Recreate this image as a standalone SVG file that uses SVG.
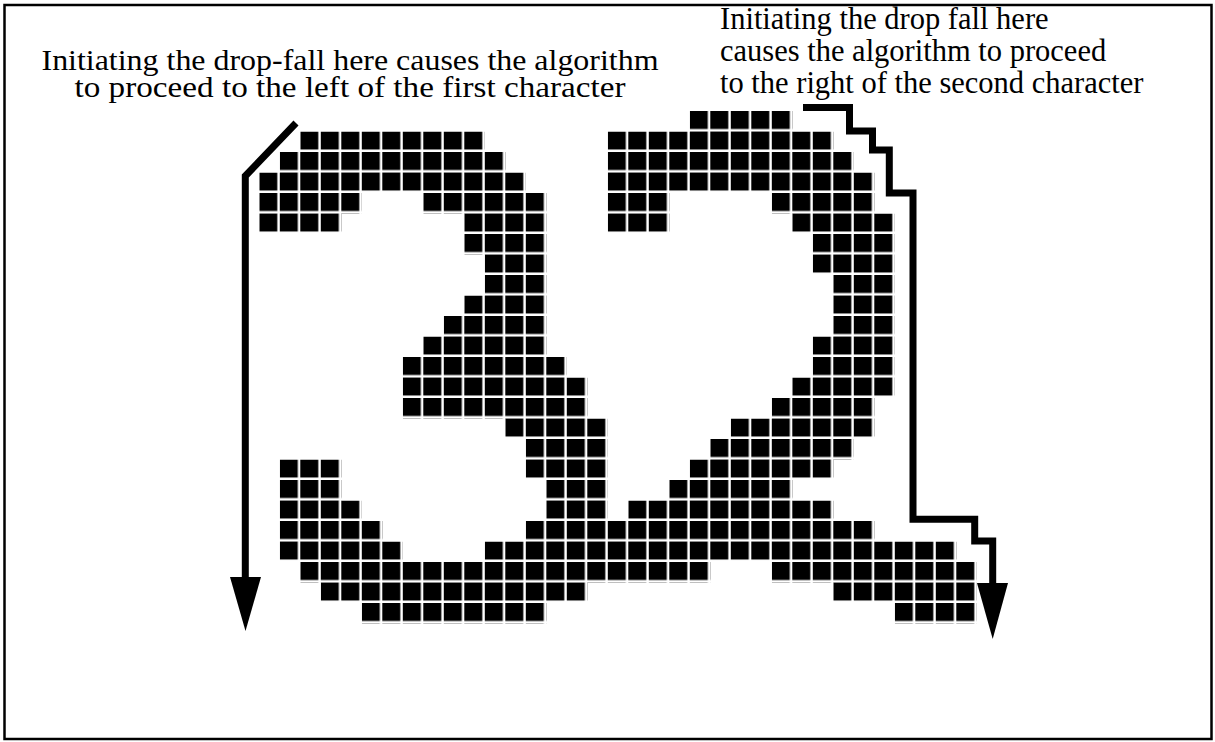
<svg xmlns="http://www.w3.org/2000/svg" width="1215" height="742" viewBox="0 0 1215 742">
<style>
.lbl{font-family:"Liberation Serif","Times New Roman",serif;fill:#000}
.conn{fill:none;stroke:#000;stroke-width:7;stroke-linejoin:miter}
.head{fill:#000}
.run{fill:url(#px)}
</style>
<defs>
<pattern id="px" patternUnits="userSpaceOnUse" x="259.3" y="111" width="20.5" height="20.5">
<rect x="0" y="0" width="18" height="18" fill="#000"/>
</pattern>
</defs>
<rect id="frame" x="4.5" y="5" width="1207" height="734" fill="#fff" stroke="#000" stroke-width="2.5"/>
<g id="grid">
<!-- row 0 -->
<rect class="run" x="689.8" y="111" width="102.5" height="20.5"/>
<!-- row 1 -->
<rect class="run" x="300.3" y="131.5" width="184.5" height="20.5"/>
<rect class="run" x="607.8" y="131.5" width="225.5" height="20.5"/>
<!-- row 2 -->
<rect class="run" x="279.8" y="152" width="225.5" height="20.5"/>
<rect class="run" x="607.8" y="152" width="246" height="20.5"/>
<!-- row 3 -->
<rect class="run" x="259.3" y="172.5" width="266.5" height="20.5"/>
<rect class="run" x="607.8" y="172.5" width="266.5" height="20.5"/>
<!-- row 4 -->
<rect class="run" x="259.3" y="193" width="102.5" height="20.5"/>
<rect class="run" x="423.3" y="193" width="123" height="20.5"/>
<rect class="run" x="607.8" y="193" width="61.5" height="20.5"/>
<rect class="run" x="771.8" y="193" width="102.5" height="20.5"/>
<!-- row 5 -->
<rect class="run" x="259.3" y="213.5" width="82" height="20.5"/>
<rect class="run" x="464.3" y="213.5" width="82" height="20.5"/>
<rect class="run" x="607.8" y="213.5" width="61.5" height="20.5"/>
<rect class="run" x="792.3" y="213.5" width="102.5" height="20.5"/>
<!-- row 6 -->
<rect class="run" x="464.3" y="234" width="82" height="20.5"/>
<rect class="run" x="812.8" y="234" width="82" height="20.5"/>
<!-- row 7 -->
<rect class="run" x="484.8" y="254.5" width="61.5" height="20.5"/>
<rect class="run" x="812.8" y="254.5" width="82" height="20.5"/>
<!-- row 8 -->
<rect class="run" x="484.8" y="275" width="61.5" height="20.5"/>
<rect class="run" x="833.3" y="275" width="61.5" height="20.5"/>
<!-- row 9 -->
<rect class="run" x="464.3" y="295.5" width="82" height="20.5"/>
<rect class="run" x="833.3" y="295.5" width="61.5" height="20.5"/>
<!-- row 10 -->
<rect class="run" x="443.8" y="316" width="102.5" height="20.5"/>
<rect class="run" x="833.3" y="316" width="61.5" height="20.5"/>
<!-- row 11 -->
<rect class="run" x="423.3" y="336.5" width="123" height="20.5"/>
<rect class="run" x="812.8" y="336.5" width="82" height="20.5"/>
<!-- row 12 -->
<rect class="run" x="402.8" y="357" width="164" height="20.5"/>
<rect class="run" x="812.8" y="357" width="82" height="20.5"/>
<!-- row 13 -->
<rect class="run" x="402.8" y="377.5" width="184.5" height="20.5"/>
<rect class="run" x="792.3" y="377.5" width="102.5" height="20.5"/>
<!-- row 14 -->
<rect class="run" x="402.8" y="398" width="184.5" height="20.5"/>
<rect class="run" x="771.8" y="398" width="102.5" height="20.5"/>
<!-- row 15 -->
<rect class="run" x="505.3" y="418.5" width="102.5" height="20.5"/>
<rect class="run" x="730.8" y="418.5" width="143.5" height="20.5"/>
<!-- row 16 -->
<rect class="run" x="525.8" y="439" width="82" height="20.5"/>
<rect class="run" x="710.3" y="439" width="143.5" height="20.5"/>
<!-- row 17 -->
<rect class="run" x="279.8" y="459.5" width="61.5" height="20.5"/>
<rect class="run" x="525.8" y="459.5" width="82" height="20.5"/>
<rect class="run" x="689.8" y="459.5" width="143.5" height="20.5"/>
<!-- row 18 -->
<rect class="run" x="279.8" y="480" width="61.5" height="20.5"/>
<rect class="run" x="546.3" y="480" width="61.5" height="20.5"/>
<rect class="run" x="669.3" y="480" width="123" height="20.5"/>
<!-- row 19 -->
<rect class="run" x="279.8" y="500.5" width="82" height="20.5"/>
<rect class="run" x="546.3" y="500.5" width="61.5" height="20.5"/>
<rect class="run" x="628.3" y="500.5" width="205" height="20.5"/>
<!-- row 20 -->
<rect class="run" x="279.8" y="521" width="102.5" height="20.5"/>
<rect class="run" x="525.8" y="521" width="348.5" height="20.5"/>
<!-- row 21 -->
<rect class="run" x="279.8" y="541.5" width="123" height="20.5"/>
<rect class="run" x="484.8" y="541.5" width="471.5" height="20.5"/>
<!-- row 22 -->
<rect class="run" x="300.3" y="562" width="410" height="20.5"/>
<rect class="run" x="771.8" y="562" width="205" height="20.5"/>
<!-- row 23 -->
<rect class="run" x="320.8" y="582.5" width="266.5" height="20.5"/>
<rect class="run" x="833.3" y="582.5" width="143.5" height="20.5"/>
<!-- row 24 -->
<rect class="run" x="361.8" y="603" width="184.5" height="20.5"/>
<rect class="run" x="894.8" y="603" width="82" height="20.5"/>
</g>
<g id="connectors">
<path class="conn" d="M 296 123 L 245.3 176 V 580"/>
<polygon class="head" points="230,577 261,577 245.5,631"/>
<path class="conn" d="M 803 107.5 H 849.5 V 131 H 872.5 V 150 H 889.3 V 193 H 913 V 519.3 H 974.7 V 541 H 992.7 V 586"/>
<polygon class="head" points="977,583 1008,583 992.7,639"/>
</g>
<g id="label-left">
<text class="lbl" x="350" y="70" font-size="28.5" text-anchor="middle" textLength="617" lengthAdjust="spacingAndGlyphs">Initiating the drop-fall here causes the algorithm</text>
<text class="lbl" x="350" y="97" font-size="28.5" text-anchor="middle" textLength="551" lengthAdjust="spacingAndGlyphs">to proceed to the left of the first character</text>
</g>
<g id="label-right">
<text class="lbl" x="720" y="29" font-size="30.5">Initiating the drop fall here</text>
<text class="lbl" x="720" y="61" font-size="30.5">causes the algorithm to proceed</text>
<text class="lbl" x="720" y="93" font-size="30.5">to the right of the second character</text>
</g>
</svg>
